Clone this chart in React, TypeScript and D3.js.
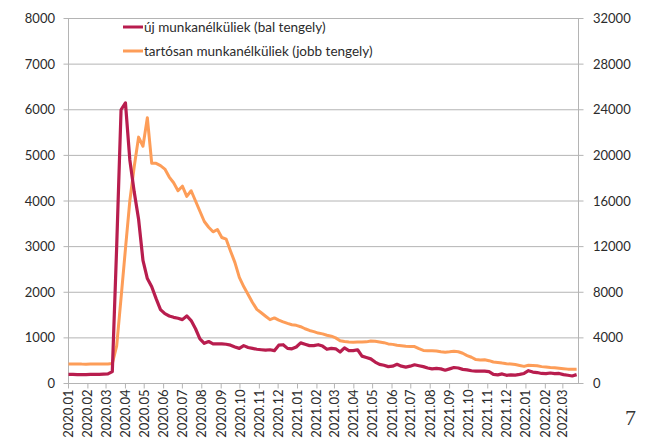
import React from 'react';
import * as d3 from 'd3';

// Weekly observations starting 2020-01-01
const startDate = new Date(2020, 0, 1);

// új munkanélküliek (bal tengely)
const newUnemployed = [
  200, 200, 195, 195, 195, 200, 200, 200, 205, 210,
  260, 3000, 6000, 6150, 4900, 4200, 3600, 2700, 2300, 2120,
  1860, 1620, 1530, 1480, 1450, 1430, 1400, 1480, 1380, 1200,
  980, 880, 920, 870, 870, 870, 860, 840, 800, 770,
  830, 790, 770, 750, 740, 730, 740, 720, 840, 850,
  770, 760, 800, 890, 860, 830, 830, 850, 820, 750,
  770, 760, 690, 780, 720, 720, 740, 600, 570, 540,
  470, 420, 400, 370, 380, 420, 380, 360, 380, 410,
  390, 370, 340, 320, 330, 320, 290, 320, 350, 340,
  310, 300, 280, 270, 270, 270, 260, 200, 190, 210,
  180, 190, 185, 200, 220, 280, 250, 240, 220, 215,
  230, 215, 220, 195, 180, 165, 195,
];

// tartósan munkanélküliek (jobb tengely)
const longTerm = [
  1700, 1700, 1720, 1700, 1690, 1700, 1700, 1700, 1700, 1710,
  1750, 3300, 7500, 11800, 16000, 19000, 21600, 20800, 23300, 19300,
  19300, 19100, 18800, 18100, 17600, 16900, 17300, 16400, 16900, 16000,
  15100, 14200, 13700, 13300, 13500, 12800, 12650, 11600, 10600, 9300,
  8500, 7800, 7100, 6500, 6200, 5900, 5600, 5750, 5550, 5400,
  5270, 5150, 5100, 4980, 4800, 4650, 4550, 4420, 4350, 4230,
  4150, 4000, 3750, 3680, 3640, 3620, 3630, 3640, 3650, 3720,
  3700, 3640, 3580, 3470, 3430, 3350, 3310, 3260, 3250, 3240,
  3050, 2900, 2880, 2870, 2850, 2780, 2750, 2780, 2820, 2780,
  2650, 2450, 2300, 2100, 2060, 2080, 2000, 1880, 1850, 1790,
  1740, 1700, 1660, 1580, 1500, 1600, 1580, 1560, 1480, 1440,
  1400, 1380, 1340, 1300, 1260, 1240, 1250,
];

const leftTicks = [0, 1000, 2000, 3000, 4000, 5000, 6000, 7000, 8000];
const rightTicks = [0, 4000, 8000, 12000, 16000, 20000, 24000, 28000, 32000];
const monthLabels = [
  '2020.01', '2020.02', '2020.03', '2020.04', '2020.05', '2020.06', '2020.07',
  '2020.08', '2020.09', '2020.10', '2020.11', '2020.12', '2021.01', '2021.02',
  '2021.03', '2021.04', '2021.05', '2021.06', '2021.07', '2021.08', '2021.09',
  '2021.10', '2021.11', '2021.12', '2022.01', '2022.02', '2022.03',
];
const seriesNames = ['új munkanélküliek (bal tengely)', 'tartósan munkanélküliek (jobb tengely)'];
const pageNumber = '7';

const W = 652;
const H = 443;
const left = 68.5;
const right = 578.5;
const top = 18.5;
const bottom = 383.5;
const RED = '#b81d4e';
const ORANGE = '#fd9d58';
const GRID = '#b4b4b4';
const TEXT = '#2b2b2b';
const FONT = 'Lato, "Open Sans", sans-serif';

export default function App() {
  const dates = newUnemployed.map((_, i) => d3.timeDay.offset(startDate, 7 * i));
  const x = d3
    .scaleTime()
    .domain([startDate, d3.timeDay.offset(startDate, 7 * (newUnemployed.length - 1) + 3)])
    .range([left, right]);
  const yL = d3.scaleLinear().domain([0, 8000]).range([bottom, top]);
  const yR = d3.scaleLinear().domain([0, 32000]).range([bottom, top]);

  const lineL = d3
    .line<number>()
    .x((_, i) => x(dates[i]))
    .y((d) => yL(d));
  const lineR = d3
    .line<number>()
    .x((_, i) => x(dates[i]))
    .y((d) => yR(d));

  const monthDates = monthLabels.map((m) => {
    const [yy, mm] = m.split('.').map(Number);
    return new Date(yy, mm - 1, 1);
  });

  return (
    <svg
      width={W}
      height={H}
      style={{ position: 'absolute', left: 0, top: 0, background: '#fff' }}
      fontFamily={FONT}
    >
      {/* grid + left ticks */}
      {leftTicks.map((t) => (
        <g key={'l' + t}>
          <line x1={left - 5} x2={right + 5} y1={yL(t)} y2={yL(t)} stroke={GRID} strokeWidth={1} />
          <text x={55} y={yL(t)} dy="0.35em" textAnchor="end" fontSize={13} fill={TEXT}>
            {t}
          </text>
        </g>
      ))}
      {rightTicks.map((t) => (
        <text key={'r' + t} x={593} y={yR(t)} dy="0.35em" textAnchor="start" fontSize={13} fill={TEXT}>
          {t}
        </text>
      ))}
      {/* axes */}
      <line x1={left} x2={left} y1={top} y2={bottom} stroke={GRID} strokeWidth={1} />
      <line x1={right} x2={right} y1={top} y2={bottom} stroke={GRID} strokeWidth={1} />
      <line x1={left} x2={right} y1={bottom} y2={bottom} stroke={GRID} strokeWidth={1} />
      {monthDates.map((d, i) => (
        <g key={monthLabels[i]}>
          <line x1={x(d)} x2={x(d)} y1={bottom} y2={bottom + 5} stroke={GRID} strokeWidth={1} />
          <text
            transform={`translate(${x(d)},${bottom + 6}) rotate(-90)`}
            dy="0.35em"
            textAnchor="end"
            fontSize={13}
            fill={TEXT}
          >
            {monthLabels[i]}
          </text>
        </g>
      ))}
      {/* lines */}
      <path d={lineR(longTerm) || ''} fill="none" stroke={ORANGE} strokeWidth={3} strokeLinejoin="round" />
      <path d={lineL(newUnemployed) || ''} fill="none" stroke={RED} strokeWidth={3.2} strokeLinejoin="round" />
      {/* legend */}
      <line x1={123} x2={143} y1={27} y2={27} stroke={RED} strokeWidth={3} />
      <text x={144} y={27} dy="0.35em" fontSize={13.5} fill={TEXT}>
        {seriesNames[0]}
      </text>
      <line x1={123} x2={143} y1={51} y2={51} stroke={ORANGE} strokeWidth={3} />
      <text x={144} y={51} dy="0.35em" fontSize={13.5} fill={TEXT}>
        {seriesNames[1]}
      </text>
      <text x={625} y={425} fontSize={22} fontFamily='"Liberation Serif", "DejaVu Serif", serif' fill="#333">
        {pageNumber}
      </text>
    </svg>
  );
}
